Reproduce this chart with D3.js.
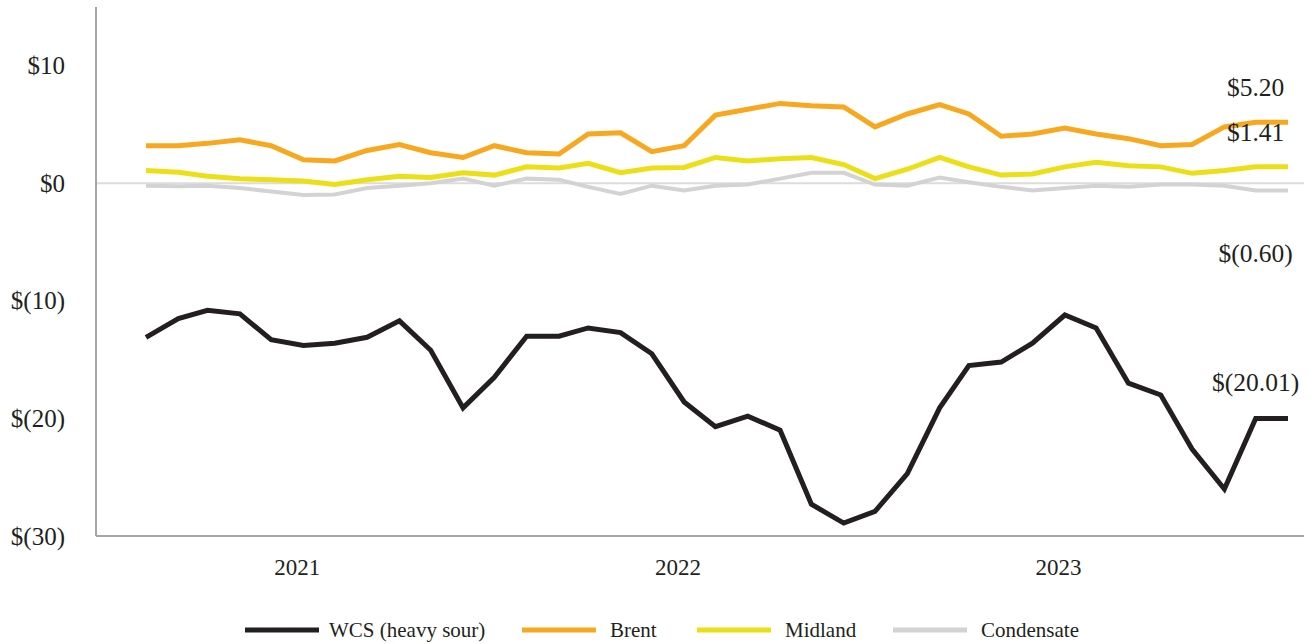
<!DOCTYPE html>
<html>
<head>
<meta charset="utf-8">
<script src="https://cdn.jsdelivr.net/npm/d3@7"></script>
<style>
    body { margin: 0; background: #fff; }
    svg { display: block; font-family: 'Liberation Serif', 'Times New Roman', serif; }
</style>
</head>
<body>
<div id="chart"></div>
<script>
'use strict';

// monthly differentials, USD/bbl
var months = d3.timeMonths(new Date(2021, 0, 1), new Date(2024, 0, 2));

var wcs = [-13.1, -11.5, -10.8, -11.1, -13.3, -13.8, -13.6, -13.1, -11.7, -14.2, -19.1, -16.5,
    -13.0, -13.0, -12.3, -12.7, -14.5, -18.6, -20.7, -19.8, -21.0, -27.3, -28.9, -27.9,
    -24.7, -19.1, -15.5, -15.2, -13.6, -11.2, -12.3, -17.0, -18.0, -22.6, -26.0, -20.01, -20.01];

var brent = [3.2, 3.2, 3.4, 3.7, 3.2, 2.0, 1.9, 2.8, 3.3, 2.6, 2.2, 3.2,
    2.6, 2.5, 4.2, 4.3, 2.7, 3.2, 5.8, 6.3, 6.8, 6.6, 6.5, 4.8,
    5.9, 6.7, 5.9, 4.0, 4.2, 4.7, 4.2, 3.8, 3.2, 3.3, 4.8, 5.2, 5.2];

var midland = [1.1, 0.95, 0.6, 0.4, 0.3, 0.2, -0.1, 0.3, 0.6, 0.5, 0.9, 0.7,
    1.4, 1.3, 1.7, 0.9, 1.3, 1.35, 2.2, 1.9, 2.1, 2.2, 1.6, 0.4,
    1.2, 2.2, 1.4, 0.7, 0.8, 1.4, 1.8, 1.5, 1.4, 0.85, 1.1, 1.41, 1.41];

var condensate = [-0.2, -0.25, -0.2, -0.4, -0.7, -1.0, -0.95, -0.4, -0.2, 0.0, 0.4, -0.2,
    0.4, 0.3, -0.3, -0.9, -0.2, -0.6, -0.2, -0.1, 0.4, 0.9, 0.9, -0.1,
    -0.2, 0.5, 0.1, -0.3, -0.6, -0.4, -0.2, -0.3, -0.1, -0.1, -0.2, -0.6, -0.6];

var seriesNames = ['WCS (heavy sour)', 'Brent', 'Midland', 'Condensate'];
var seriesColors = ['#231f20', '#f7a81e', '#ebdf17', '#d3d3d3'];
var endLabels = ['$(20.01)', '$5.20', '$1.41', '$(0.60)'];
var yTicks = [10, 0, -10, -20, -30];
var yearLabels = ['2021', '2022', '2023'];

var width = 1314;
var height = 644;

var series = [wcs, brent, midland, condensate].map(function(values, i) {
    return {
        name: seriesNames[i],
        color: seriesColors[i],
        label: endLabels[i],
        values: values.map(function(v, j) { return {date: months[j], value: v}; })
    };
});

var x = d3.scaleTime()
    .domain([months[0], months[months.length - 1]])
    .range([146, 1288]);

var y = d3.scaleLinear()
    .domain([-30, 15])
    .range([536, 7]);

var fmt = function(v) {
    return v < 0 ? '$(' + Math.abs(v) + ')' : '$' + v;
};

var svg = d3.select('#chart').append('svg')
    .attr('width', width)
    .attr('height', height);

// zero line
svg.append('line')
    .attr('x1', 97).attr('x2', 1304)
    .attr('y1', y(0)).attr('y2', y(0))
    .style('stroke', '#dcdcdc')
    .style('stroke-width', 2);

// axes frame
svg.append('line')
    .attr('x1', 96).attr('x2', 96)
    .attr('y1', y(15)).attr('y2', y(-30))
    .style('stroke', '#a6a6a6')
    .style('stroke-width', 2);

svg.append('line')
    .attr('x1', 96).attr('x2', 1304)
    .attr('y1', y(-30)).attr('y2', y(-30))
    .style('stroke', '#a6a6a6')
    .style('stroke-width', 2);

var yAxis = svg.append('g')
    .attr('transform', 'translate(65,0)')
    .call(d3.axisLeft(y).tickValues(yTicks).tickFormat(fmt).tickSize(0).tickPadding(0));
yAxis.select('.domain').remove();
yAxis.selectAll('text')
    .style('font-family', 'Liberation Serif, serif')
    .style('font-size', '25px')
    .style('fill', '#231f20');

// year labels sit roughly over late May of each year
svg.selectAll('text.year')
    .data(yearLabels)
    .enter().append('text')
    .attr('class', 'year')
    .attr('x', function(d) { return x(new Date(+d, 4, 26)); })
    .attr('y', 575)
    .attr('text-anchor', 'middle')
    .style('font-size', '23px')
    .style('fill', '#231f20')
    .text(function(d) { return d; });

var line = d3.line()
    .x(function(d) { return x(d.date); })
    .y(function(d) { return y(d.value); });

svg.selectAll('path.series')
    .data(series)
    .enter().append('path')
    .attr('class', 'series')
    .attr('d', function(d) { return line(d.values); })
    .style('fill', 'none')
    .style('stroke', function(d) { return d.color; })
    .style('stroke-width', function(d) { return d.name === 'Condensate' ? 4 : 5; })
    .style('stroke-linejoin', 'miter');

// end-of-period value labels, centred on the second-last point
var labelShift = [-28, -26, -26, 72];
svg.selectAll('text.endlabel')
    .data(series)
    .enter().append('text')
    .attr('class', 'endlabel')
    .attr('x', function(d) { return x(d.values[d.values.length - 2].date); })
    .attr('y', function(d, i) { return y(d.values[d.values.length - 2].value) + labelShift[i]; })
    .attr('text-anchor', 'middle')
    .style('font-size', '25.5px')
    .style('fill', '#231f20')
    .text(function(d) { return d.label; });

// legend
var legendX = [245, 522, 697, 893];
var legend = svg.selectAll('g.legend')
    .data(series)
    .enter().append('g')
    .attr('class', 'legend')
    .attr('transform', function(d, i) { return 'translate(' + legendX[i] + ',630)'; });

legend.append('line')
    .attr('x1', 0).attr('x2', 74)
    .style('stroke', function(d) { return d.color; })
    .style('stroke-width', 5);

legend.append('text')
    .attr('x', function(d, i) { return i === 0 ? 84 : 88; })
    .attr('y', 7)
    .style('font-size', '21px')
    .style('fill', '#231f20')
    .text(function(d) { return d.name; });
</script>
</body>
</html>
